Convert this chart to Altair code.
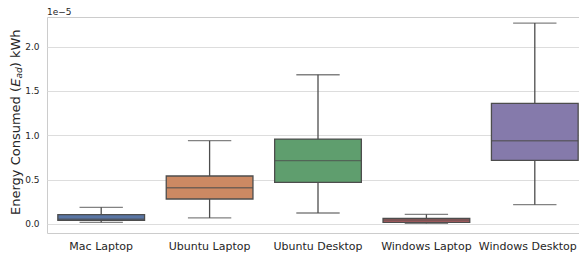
import altair as alt
import pandas as pd

# Values in units of 1e-5 kWh (matplotlib offset text "1e−5")
categories = ["Mac Laptop", "Ubuntu Laptop", "Ubuntu Desktop", "Windows Laptop", "Windows Desktop"]
whisker_low = [0.019, 0.068, 0.124, 0.008, 0.218]
q1 = [0.042, 0.282, 0.470, 0.019, 0.718]
median = [0.055, 0.409, 0.714, 0.045, 0.939]
q3 = [0.105, 0.541, 0.958, 0.064, 1.361]
whisker_high = [0.188, 0.939, 1.683, 0.109, 2.266]
colors = ["#5975a4", "#cc8963", "#5f9e6e", "#b55d60", "#857aab"]
y_ticks = [0.0, 0.5, 1.0, 1.5, 2.0]

df = pd.DataFrame({
    "cat": categories,
    "lo": whisker_low,
    "q1": q1,
    "med": median,
    "q3": q3,
    "hi": whisker_high,
})

EDGE = "#4d4d4d"
TXT = "#262626"
FONT = "DejaVu Sans"
W, H = 542, 216
BAND = W / len(categories)

last = categories[-1]
xenc = alt.X("cat:N", sort=categories,
             scale=alt.Scale(paddingInner=0, paddingOuter=0),
             axis=alt.Axis(title=None, labelAngle=0, ticks=False, domain=False,
                           labelFontSize=11, labelPadding=7, labelColor=TXT, labelFont=FONT,
                           labelOffset={"condition": {"test": f"datum.value === '{last}'", "value": -7},
                                        "value": 0}))
yscale = alt.Scale(domain=[-0.1015, 2.334], nice=False, zero=False)
yaxis = alt.Axis(title=None, values=y_ticks, format=".1f", ticks=False, domain=False,
                 labelFontSize=9, labelPadding=8, labelColor=TXT, labelFont=FONT,
                 grid=True, gridColor="#dddddd", gridWidth=1)

base = alt.Chart(df)

whisk = base.mark_rule(color=EDGE, strokeWidth=1.3).encode(
    x=xenc, y=alt.Y("lo:Q", scale=yscale, axis=yaxis), y2="hi:Q")
cap_lo = base.mark_tick(color=EDGE, size=BAND * 0.4, thickness=1.3).encode(
    x=xenc, y=alt.Y("lo:Q", scale=yscale))
cap_hi = base.mark_tick(color=EDGE, size=BAND * 0.4, thickness=1.3).encode(
    x=xenc, y=alt.Y("hi:Q", scale=yscale))
box = base.mark_bar(width=alt.RelativeBandSize(0.8), stroke=EDGE, strokeWidth=1.3).encode(
    x=xenc, y=alt.Y("q1:Q", scale=yscale), y2="q3:Q",
    color=alt.Color("cat:N", scale=alt.Scale(domain=categories, range=colors), legend=None))
med = base.mark_tick(color=EDGE, size=BAND * 0.8, thickness=1.4).encode(
    x=xenc, y=alt.Y("med:Q", scale=yscale))

def txt(s, x, y, size=13, style="normal", angle=270, align="left", baseline="alphabetic"):
    return alt.Chart(pd.DataFrame({"t": [s]})).mark_text(
        text=s, fontSize=size, font=FONT, fontStyle=style, color=TXT,
        angle=angle, align=align, baseline=baseline
    ).encode(x=alt.value(x), y=alt.value(y))

TX = -27.5
title_parts = [
    txt("Energy Consumed (", TX, 198),
    txt("E", TX, 69.7, style="italic"),
    txt("ad", TX + 2.5, 61.5, size=9, style="italic"),
    txt(") kWh", TX, 50.3),
]
offset = txt("1e\u22125", 0, -2, size=9, angle=0)

chart = alt.layer(whisk, cap_lo, cap_hi, box, med, offset, *title_parts).properties(
    width=W, height=H,
    autosize=alt.AutoSizeParams(type="none"),
    padding={"left": 39, "top": 9, "right": -10, "bottom": 21},
    background="white",
).configure_view(stroke="#cccccc", strokeWidth=1)

chart.save("out.html", embed_options={"renderer": "svg", "actions": False})
